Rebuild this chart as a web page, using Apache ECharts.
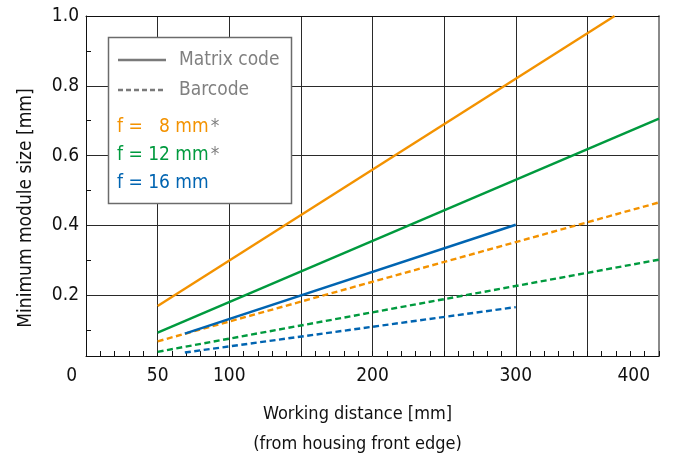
<!DOCTYPE html>
<html><head><meta charset="utf-8">
<script src="https://cdn.jsdelivr.net/npm/echarts@6/dist/echarts.min.js"></script>
<style>html,body{margin:0;padding:0;background:#fff}#c{width:675px;height:457px}</style>
</head><body><div id="c"></div>
<script>
const FONT = '"DejaVu Sans Condensed","Liberation Sans Narrow","DejaVu Sans",sans-serif';

// axes
const xMin = 0, xMax = 400, xGridStep = 50, xMinorStep = 10;
const xLabelValues = [0, 50, 100, 200, 300, 400];
const yMin = 0.026, yMax = 1.0;
const yLabelValues = [0.2, 0.4, 0.6, 0.8, 1.0];
const yMinorTickValues = [0.1, 0.3, 0.5, 0.7, 0.9];

// series (working distance mm, minimum module size mm)
const f8Matrix   = [[50, 0.169], [369, 1.0]];
const f8Barcode  = [[50, 0.068], [400, 0.466]];
const f12Matrix  = [[50, 0.093], [400, 0.706]];
const f12Barcode = [[50, 0.038], [400, 0.302]];
const f16Matrix  = [[69, 0.090], [300, 0.402]];
const f16Barcode = [[69, 0.036], [300, 0.166]];

// legend
const codeTypes = ['Matrix code', 'Barcode'];
const lensLabels = ['f =   8 mm', 'f = 12 mm', 'f = 16 mm'];
const lensStar = [true, true, false];
const lensColors = ['#F39200', '#009A3E', '#0064B1'];

const xAxisTitle = 'Working distance [mm]\n(from housing front edge)';
const yAxisTitle = 'Minimum module size [mm]';

const DASH = [6, 3.5];
function mk(name, data, color, dashed) {
  return { name, type: 'line', data, symbol: 'none', showSymbol: false, clip: true,
    xAxisIndex: 0, yAxisIndex: 0, z: 5,
    lineStyle: { color, width: 2.4, type: dashed ? DASH : 'solid' } };
}

const chart = echarts.init(document.getElementById('c'), null, { renderer: 'canvas' });

const legendGraphics = [
  { type: 'rect', shape: { x: 108.5, y: 37.5, width: 183, height: 166 },
    style: { fill: '#fff', stroke: '#6b6b6b', lineWidth: 1.5 }, z: 100 },
  { type: 'line', shape: { x1: 118, y1: 60, x2: 166, y2: 60 },
    style: { stroke: '#7a7a7a', lineWidth: 2.5 }, z: 101 },
  { type: 'line', shape: { x1: 118, y1: 90, x2: 166, y2: 90 },
    style: { stroke: '#7a7a7a', lineWidth: 2.5, lineDash: [5, 3] }, z: 101 },
];
codeTypes.forEach((t, i) => legendGraphics.push({
  type: 'text', x: 179, y: 60 + i * 30, z: 101,
  style: { text: t, fill: '#808080', font: '19px ' + FONT, verticalAlign: 'middle', align: 'left' }
}));
lensLabels.forEach((t, i) => legendGraphics.push({
  type: 'text', x: 117, y: 127 + i * 28, z: 101,
  style: { text: '{c|' + t + '}' + (lensStar[i] ? '{s|*}' : ''), verticalAlign: 'middle', align: 'left',
    rich: { c: { fill: lensColors[i], font: '19px ' + FONT },
            s: { fill: '#808080', font: '19px ' + FONT, padding: [0, 0, 0, 2] } } }
}));

chart.setOption({
  animation: false,
  backgroundColor: '#fff',
  textStyle: { fontFamily: FONT },
  grid: { left: 86, right: 16, top: 16, bottom: 101, containLabel: false, outerBoundsMode: 'none' },
  xAxis: [
    { type: 'value', position: 'bottom', min: xMin, max: xMax, interval: xGridStep,
      name: xAxisTitle, nameLocation: 'middle', nameGap: 43,
      nameTextStyle: { fontFamily: FONT, fontSize: 18, color: '#111', lineHeight: 30, padding: [0, 30, 0, 0] },
      axisLine: { show: true, onZero: false, lineStyle: { color: '#111', width: 1 } },
      axisTick: { show: false },
      axisLabel: { customValues: xLabelValues, fontFamily: FONT, fontSize: 19, color: '#111', margin: 11,
        alignMinLabel: 'right', alignMaxLabel: 'right',
        formatter: v => (v === xMin || v === xMax) ? '{e|' + v + '}' : String(v),
        rich: { e: { fontFamily: FONT, fontSize: 19, color: '#111', padding: [0, 9, 0, 0] } } },
      splitLine: { show: true, showMinLine: false, showMaxLine: false, lineStyle: { color: '#2a2a2a', width: 1 } } },
    { type: 'value', position: 'bottom', min: xMin, max: xMax, interval: xMinorStep,
      axisLine: { show: false, onZero: false },
      axisTick: { show: true, inside: true, length: 5, lineStyle: { color: '#111', width: 1 } },
      axisLabel: { show: false }, splitLine: { show: false } },
    { type: 'value', position: 'top', min: xMin, max: xMax,
      axisLine: { show: true, onZero: false, lineStyle: { color: '#111', width: 1 } },
      axisTick: { show: false }, axisLabel: { show: false }, splitLine: { show: false } }
  ],
  yAxis: [
    { type: 'value', position: 'left', min: yMin, max: yMax,
      name: yAxisTitle, nameLocation: 'middle', nameGap: 50,
      nameTextStyle: { fontFamily: FONT, fontSize: 19, color: '#111', padding: [0, 44, 0, 0] },
      axisLine: { show: true, onZero: false, lineStyle: { color: '#111', width: 1 } },
      axisTick: { show: false, customValues: yLabelValues },
      axisLabel: { customValues: yLabelValues, fontFamily: FONT, fontSize: 19, color: '#111', margin: 7,
        formatter: v => v.toFixed(1) },
      splitLine: { show: true, lineStyle: { color: '#2a2a2a', width: 1 } } },
    { type: 'value', position: 'left', min: yMin, max: yMax,
      axisLine: { show: false, onZero: false },
      axisTick: { show: true, inside: true, length: 5, customValues: yMinorTickValues, lineStyle: { color: '#111', width: 1 } },
      axisLabel: { show: false }, splitLine: { show: false } },
    { type: 'value', position: 'right', min: yMin, max: yMax,
      axisLine: { show: true, onZero: false, lineStyle: { color: '#8a8a8a', width: 2 } },
      axisTick: { show: false }, axisLabel: { show: false }, splitLine: { show: false } }
  ],
  series: [
    mk('f = 8 mm Matrix code', f8Matrix, lensColors[0], false),
    mk('f = 8 mm Barcode', f8Barcode, lensColors[0], true),
    mk('f = 12 mm Matrix code', f12Matrix, lensColors[1], false),
    mk('f = 12 mm Barcode', f12Barcode, lensColors[1], true),
    mk('f = 16 mm Matrix code', f16Matrix, lensColors[2], false),
    mk('f = 16 mm Barcode', f16Barcode, lensColors[2], true)
  ],
  graphic: legendGraphics
});
</script></body></html>
